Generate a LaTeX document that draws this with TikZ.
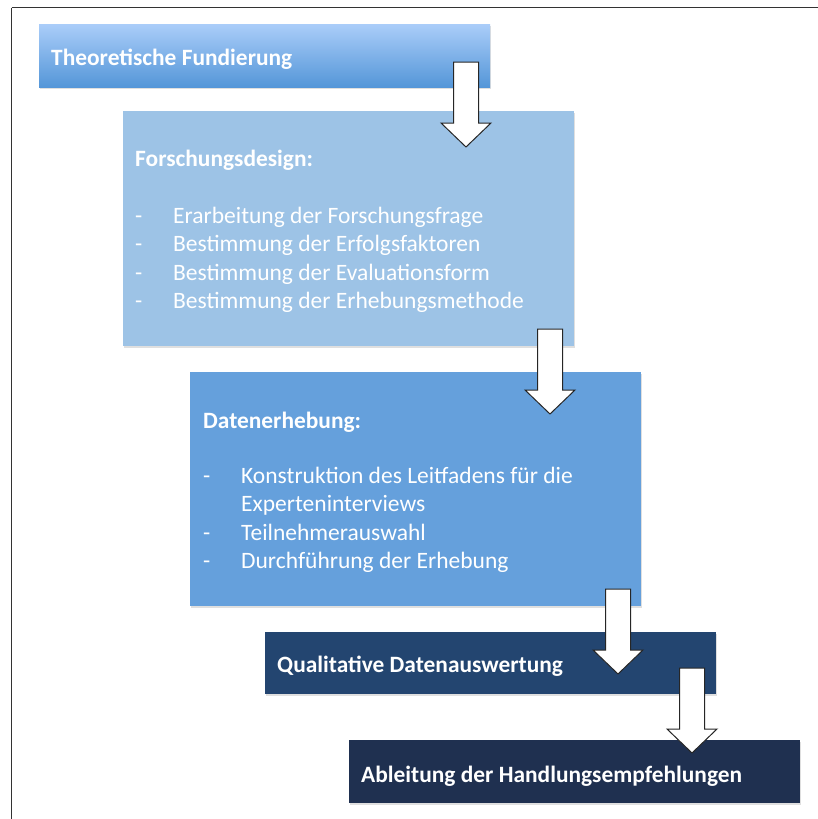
\documentclass[tikz,border=0pt]{standalone}
\usepackage{fontspec}
\setmainfont{Carlito}
\usetikzlibrary{shadows}

\definecolor{fundTop}{RGB}{170,205,249}
\definecolor{fundBot}{RGB}{84,150,216}
\definecolor{designBlue}{RGB}{157,195,230}
\definecolor{dataBlue}{RGB}{101,160,220}
\definecolor{evalNavy}{RGB}{35,69,112}
\definecolor{deriveNavy}{RGB}{31,48,80}

\tikzset{
  stage/.style={draw=none, inner sep=0pt, anchor=north west,
    minimum width=451pt, drop shadow={shadow xshift=1pt, shadow yshift=-2pt, opacity=0.25}},
  title/.style={anchor=base west, inner sep=0pt, text=white,
    font=\fontsize{23.4}{28}\selectfont\bfseries},
  items/.style={anchor=base west, inner sep=0pt, text=white,
    font=\fontsize{23.5}{28.4}\selectfont},
  blockarrow/.style={draw=black!85, line width=1pt, fill=white, line join=miter},
  frameline/.style={draw=black!80, line width=1.6pt}
}

% block arrow pointing down, given the top centre of its shaft
\newcommand{\downarrowat}[1]{%
  \draw[blockarrow] (#1) ++(-12.5,0) -- ++(0,61) -- ++(-12.5,0)
    -- ++(25,24) -- ++(25,-24) -- ++(-12.5,0) -- ++(0,-61) -- cycle;}

\newcommand{\itemrows}[1]{%
  \begin{tabular}[t]{@{}p{38pt}@{}l@{}}#1\end{tabular}}

\begin{document}
\begin{tikzpicture}[x=1pt, y=-1pt]
  \useasboundingbox (0,0) rectangle (818,819);
  \fill[white] (0,0) rectangle (818,819);

  % outer frame: top and left edges
  \draw[frameline] (11.5,7.5) -- (818,7.5);
  \draw[frameline] (11.5,7.5) -- (11.5,819);

  % stage boxes
  \node[stage, minimum height=63pt, top color=fundTop, bottom color=fundBot]
    (fund) at (39,24) {};
  \node[stage, minimum height=235pt, fill=designBlue] (design) at (123,111) {};
  \node[stage, minimum height=234pt, fill=dataBlue] (data) at (190,372) {};
  \node[stage, minimum height=62pt, fill=evalNavy] (eval) at (265,632) {};
  \node[stage, minimum height=63pt, fill=deriveNavy] (derive) at (349,740) {};

  % texts
  \node[title] (fundT) at (51,65.5) {Theoretische Fundierung};

  \node[title] (designT) at (135,166.5) {Forschungsdesign:};
  \node[items] (designL) at (135,223.3) {\itemrows{%
    - & Erarbeitung der Forschungsfrage\\
    - & Bestimmung der Erfolgsfaktoren\\
    - & Bestimmung der Evaluationsform\\
    - & Bestimmung der Erhebungsmethode}};

  \node[title] (dataT) at (203,428.3) {Datenerhebung:};
  \node[items] (dataL) at (203,483.3) {\itemrows{%
    - & Konstruktion des Leitfadens für die\\
      & Experteninterviews\\
    - & Teilnehmerauswahl\\
    - & Durchführung der Erhebung}};

  \node[title] (evalT) at (277,672.5) {Qualitative Datenauswertung};
  \node[title] (deriveT) at (361,782) {Ableitung der Handlungsempfehlungen};

  % connecting block arrows
  \coordinate (a1) at (466,62);
  \coordinate (a2) at (550,329);
  \coordinate (a3) at (618,589);
  \coordinate (a4) at (692,668);
  \downarrowat{a1}
  \downarrowat{a2}
  \downarrowat{a3}
  \downarrowat{a4}
\end{tikzpicture}
\end{document}
